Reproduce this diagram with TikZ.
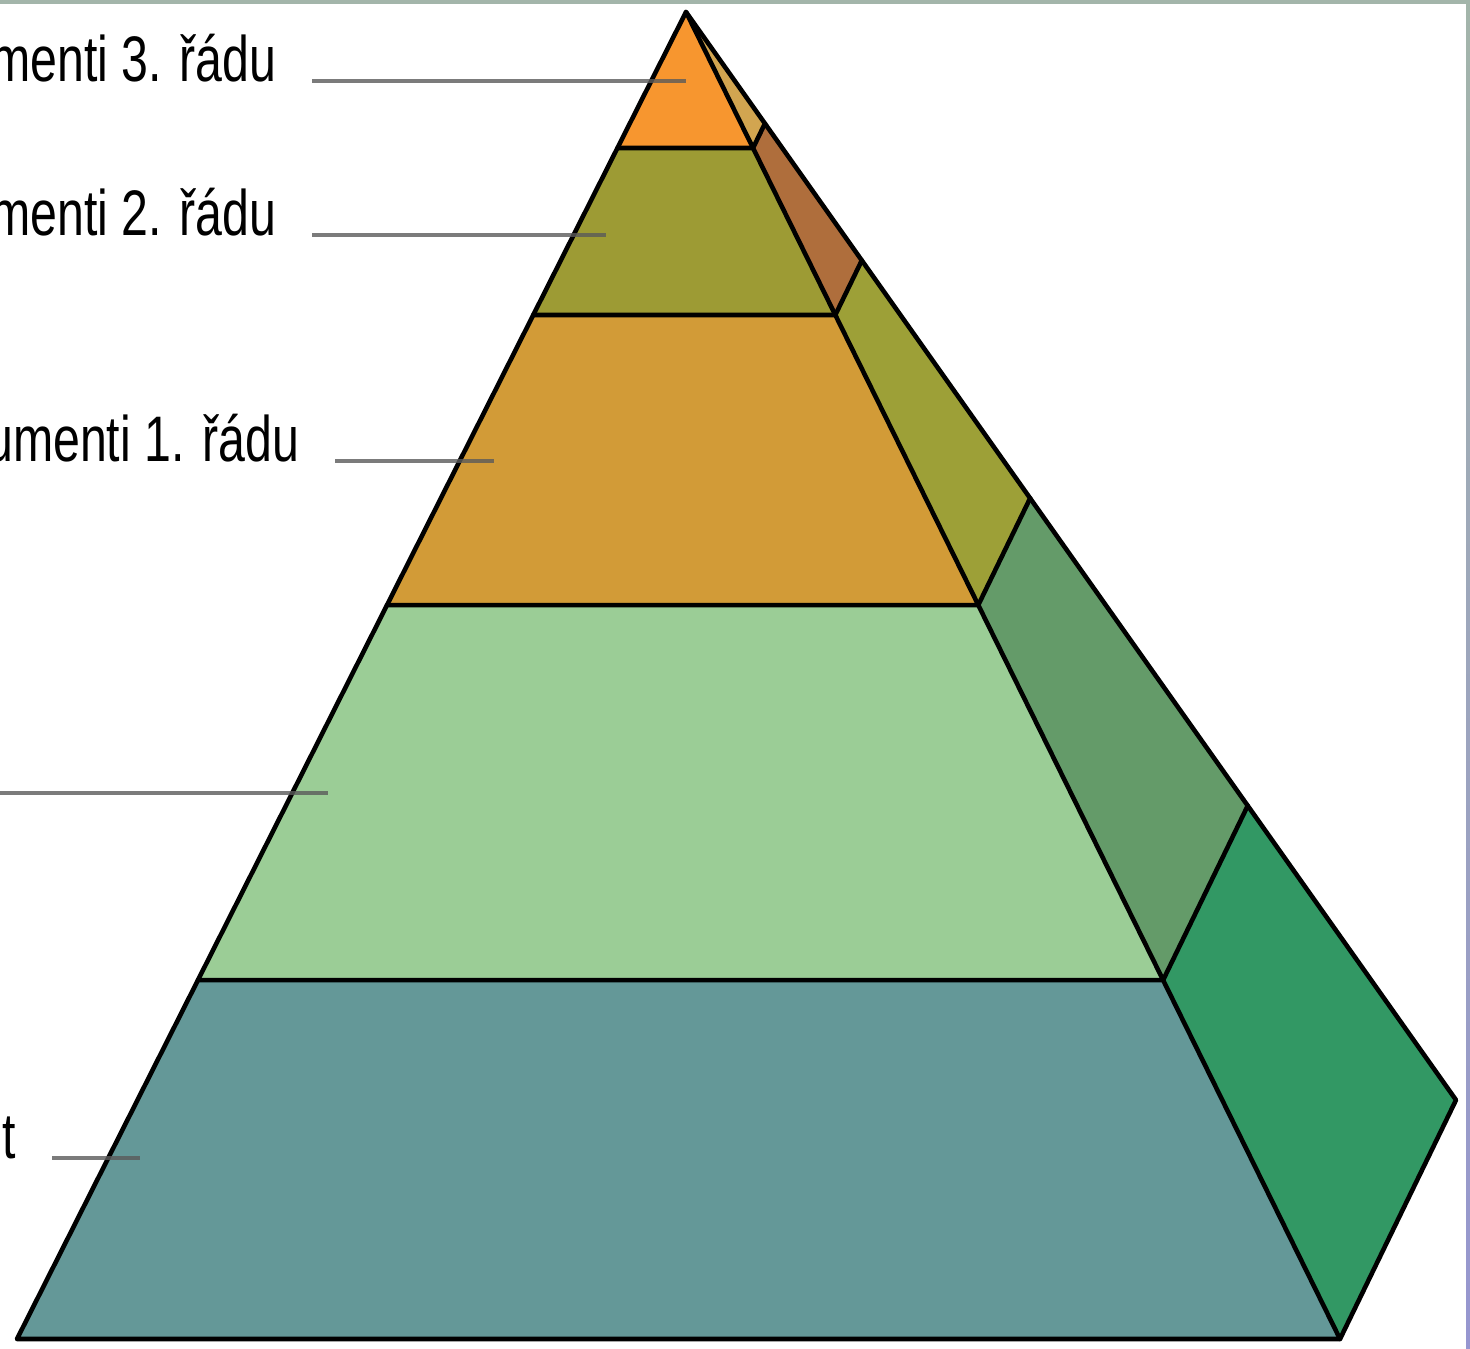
\documentclass[tikz,border=0pt]{standalone}
\usepackage{fontspec}
\setmainfont{Liberation Sans}
\newfontfamily\lblfont[FakeStretch=0.75]{Liberation Sans}
\usepackage{tikz}
\usetikzlibrary{calc, positioning}
\definecolor{framegrey}{RGB}{163, 181, 170}
\definecolor{framelav}{RGB}{208, 216, 248}
\definecolor{framepurple}{RGB}{150, 150, 208}
\definecolor{leadgrey}{RGB}{90, 90, 90}
\definecolor{topfront}{RGB}{247, 150, 47}
\definecolor{topside}{RGB}{210, 165, 80}
\definecolor{secfront}{RGB}{157, 155, 52}
\definecolor{secside}{RGB}{175, 110, 60}
\definecolor{midfront}{RGB}{210, 155, 55}
\definecolor{midside}{RGB}{157, 160, 55}
\definecolor{lowfront}{RGB}{155, 205, 150}
\definecolor{lowside}{RGB}{100, 155, 105}
\definecolor{basefront}{RGB}{100, 152, 152}
\definecolor{baseside}{RGB}{50, 152, 100}

\begin{document}
\begin{tikzpicture}[
          x=0.01cm, y=-0.01cm,
          edge/.style={draw=black, line width=1.3pt, line join=round, line cap=round},
          lbl/.style={anchor=base east, inner sep=0pt, font=\lblfont\fontsize{18.3}{22}\selectfont},
          lead/.style={draw=leadgrey, line width=1pt, opacity=0.8},
        ]
        \useasboundingbox (0,0) rectangle (1470,1348);
        \clip (0,0) rectangle (1470,1348);

        % corners
        \coordinate (apex) at (686,12);
        \coordinate (bl)   at (17,1339);
        \coordinate (br)   at (1340,1339);
        \coordinate (sr)   at (1456,1100);

        % slices: front face and side face
        \foreach \ta/\tb/\cf/\cs in {0/0.1025/topfront/topside, 0.1025/0.2283/secfront/secside,
                                     0.2283/0.4469/midfront/midside, 0.4469/0.7295/lowfront/lowside,
                                     0.7295/1/basefront/baseside} {
          \fill[\cf] ($(apex)!\ta!(bl)$) -- ($(apex)!\tb!(bl)$) -- ($(apex)!\tb!(br)$) -- ($(apex)!\ta!(br)$) -- cycle;
          \fill[\cs] ($(apex)!\ta!(br)$) -- ($(apex)!\tb!(br)$) -- ($(apex)!\tb!(sr)$) -- ($(apex)!\ta!(sr)$) -- cycle;
        }
        \foreach \t in {0.1025, 0.2283, 0.4469, 0.7295}
          \draw[edge] ($(apex)!\t!(bl)$) -- ($(apex)!\t!(br)$) -- ($(apex)!\t!(sr)$);
        \draw[edge] (apex) -- (bl) -- (br) -- (sr) -- cycle;
        \draw[edge] (apex) -- (br);

        % labels
        \node[lbl] (k3) at (277,81)   {menti 3. řádu};
        \node[lbl] (k2) at (277,235)  {menti 2. řádu};
        \node[lbl] (k1) at (300,461)  {umenti 1. řádu};
        \node[lbl] (zk) at (17,1158)  {t};

        \coordinate (p3) at (686,81);
        \coordinate (p2) at (606,235);
        \coordinate (p1) at (494,461);
        \coordinate (q0) at (0,793);
        \coordinate (p0) at (328,793);
        \coordinate (pz) at (140,1158);

        \draw[lead] ($(k3.base east)+(35,0)$) -- (p3);
        \draw[lead] ($(k2.base east)+(35,0)$) -- (p2);
        \draw[lead] ($(k1.base east)+(35,0)$) -- (p1);
        \draw[lead] (q0) -- (p0);
        \draw[lead] ($(zk.base east)+(35,0)$) -- (pz);

        % frame strips
        \fill[framegrey] (0,0) rectangle (1470,4);
        \shade[top color=framegrey, middle color=framelav, bottom color=framepurple] (1466,0) rectangle (1470,1348);
      \end{tikzpicture}
\end{document}
